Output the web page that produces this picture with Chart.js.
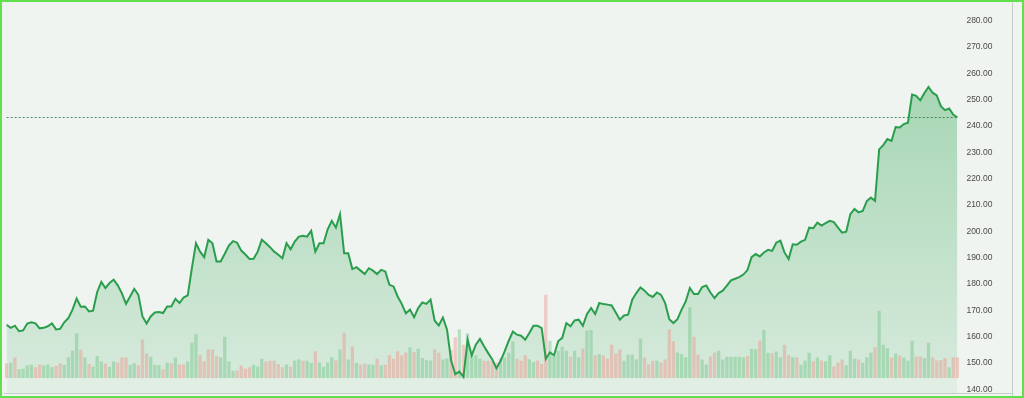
<!DOCTYPE html>
<html><head><meta charset="utf-8">
<script src="https://cdn.jsdelivr.net/npm/chart.js@4"></script>
<style>html,body{margin:0;padding:0;background:#eff4f0;}canvas{display:block;}</style>
</head><body>
<canvas id="c" width="1024" height="398"></canvas>
<script>
// Closing prices, one per trading day
const closes = [
 164.5,163.4,164.2,162.1,162.4,165.0,165.5,165.1,163.2,163.4,
 164.0,165.1,162.8,163.0,165.5,167.1,170.3,174.5,171.4,171.5,
 169.6,169.9,177.0,180.8,178.5,180.4,181.7,179.5,176.5,172.5,
 175.3,178.2,175.9,167.7,165.0,167.7,169.2,169.4,169.0,171.5,
 171.5,174.4,172.8,174.9,175.7,186.0,195.5,192.3,190.2,196.8,
 195.5,188.6,188.6,191.5,194.6,196.3,195.7,192.7,191.2,189.5,
 189.6,192.3,196.8,195.5,194.0,192.3,191.1,189.8,195.5,193.2,
 196.1,198.0,198.3,198.0,200.2,192.3,195.5,195.5,200.8,204.0,
 201.4,206.5,191.7,191.7,185.7,186.4,185.1,183.8,186.0,185.1,
 183.8,185.4,184.8,179.7,179.1,175.3,172.5,168.9,170.3,167.4,
 170.9,173.0,172.5,174.1,166.1,164.3,167.3,162.7,151.0,145.8,
 146.8,144.8,158.9,153.0,157.0,159.2,156.4,153.8,151.4,148.0,
 150.8,154.5,158.5,162.0,160.8,160.4,158.9,161.4,164.2,164.2,
 163.3,151.6,154.1,153.0,158.3,159.6,165.2,164.0,166.2,166.5,
 164.2,168.6,170.9,168.6,172.8,172.4,172.2,171.9,169.2,166.5,
 168.1,168.4,174.1,176.6,178.7,177.5,175.9,175.1,176.8,175.9,
 172.8,166.7,165.2,166.7,170.3,173.4,178.5,176.2,176.2,178.9,
 179.5,176.8,174.7,176.6,177.5,179.4,181.4,182.0,182.6,183.6,
 185.3,190.2,191.4,190.5,192.0,193.0,192.6,195.7,196.5,192.0,
 189.5,195.1,194.9,196.1,196.8,201.4,201.2,203.3,202.2,203.1,
 204.0,203.5,201.4,199.5,199.9,206.5,208.5,207.2,207.7,211.5,
 212.8,211.6,231.1,232.7,235.0,234.3,239.6,239.4,240.7,241.2,
 251.9,251.4,249.7,252.5,254.8,252.6,251.6,247.5,246.0,246.6,
 244.3,243.2
];
// Volume per day (millions)
const volumes = [
 37,38,51,22,23,32,33,27,34,32,
 34,27,30,37,33,52,68,112,71,51,
 35,29,55,41,36,28,41,39,51,51,
 33,37,32,96,62,53,33,32,22,38,
 37,51,34,34,41,88,110,57,42,72,
 71,55,52,103,42,18,19,31,23,27,
 33,29,48,41,43,43,35,27,34,28,
 44,47,43,43,38,67,39,28,39,52,
 44,71,113,46,79,38,34,36,34,33,
 48,32,33,57,48,67,57,64,77,65,
 73,50,45,44,71,63,46,49,70,102,
 122,83,112,62,57,48,43,43,43,39,
 49,51,63,91,48,43,57,47,40,44,
 35,208,93,55,68,78,68,53,68,52,
 74,119,120,57,60,56,48,83,61,71,
 43,58,58,46,99,51,34,43,43,39,
 46,121,92,64,60,52,177,103,58,46,
 34,54,64,68,46,53,53,53,53,52,
 55,73,72,93,120,63,62,66,52,83,
 57,52,52,33,43,63,42,51,44,42,
 57,29,39,46,32,68,48,46,38,52,
 63,77,168,83,75,51,61,56,51,43,
 93,54,54,50,88,51,44,45,50,27,
 52,52
];
// 1 = up day (green volume bar), 0 = down day (red volume bar)
const volUp = [
 0,1,0,1,1,1,1,0,0,1, 1,1,0,0,1,1,1,1,0,1, 0,1,1,1,0,1,1,0,0,0,
 1,1,0,0,0,1,1,1,0,1, 0,1,0,0,1,1,1,0,0,0, 0,0,1,1,1,1,0,0,0,0,
 1,1,1,0,0,0,0,0,1,0, 1,1,0,1,1,0,1,1,1,1, 0,1,0,1,0,1,0,0,1,1,
 0,1,0,0,0,0,0,0,1,0, 1,1,1,1,0,0,1,1,0,0, 1,0,1,1,1,1,0,0,0,0,
 1,1,1,1,0,0,0,1,1,0, 0,0,1,1,1,1,1,0,1,1, 0,1,1,0,1,0,0,0,0,0,
 1,1,1,1,1,0,0,0,1,0, 0,0,0,1,1,1,1,0,0,1, 1,0,0,1,1,1,1,1,1,1,
 0,1,1,0,1,1,0,1,1,0, 0,1,0,1,1,1,0,1,0,1, 1,0,0,0,1,1,1,0,1,1,
 1,0,1,1,1,0,1,0,1,1, 1,0,0,1,1,0,0,0,0,1, 0,0
];
const priceTicks = [140,150,160,170,180,190,200,210,220,230,240,250,260,270,280];
const dayLabels = closes.map((_, i) => 'Day ' + (i + 1));

const BG = '#eff4f0';
const LINE = '#2a9e4d';
const UPC = 'rgba(95,190,120,0.38)';
const DNC = 'rgba(236,150,140,0.45)';

const framePlugin = {
  id: 'frame',
  beforeDraw(chart) {
    const c = chart.ctx;
    c.save();
    c.fillStyle = BG;
    c.fillRect(0, 0, chart.width, chart.height);
    c.restore();
  },
  beforeDatasetsDraw(chart) {
    const c = chart.ctx, y = chart.scales.y, x = chart.scales.x;
    const last = closes[closes.length - 1];
    const py = Math.round(y.getPixelForValue(last)) + 0.5;
    c.save();
    c.strokeStyle = 'rgba(40,125,70,0.85)';
    c.lineWidth = 1;
    c.setLineDash([2, 2]);
    c.beginPath();
    c.moveTo(x.getPixelForValue(0), py);
    c.lineTo(x.getPixelForValue(closes.length - 1), py);
    c.stroke();
    c.restore();
  },
  afterDraw(chart) {
    const c = chart.ctx, a = chart.chartArea;
    c.save();
    c.strokeStyle = 'rgba(180,190,184,0.7)';
    c.lineWidth = 1;
    c.beginPath();
    c.moveTo(4, a.bottom + 0.5); c.lineTo(1012, a.bottom + 0.5);
    c.moveTo(1012.5, 2); c.lineTo(1012.5, 396);
    c.stroke();
    c.strokeStyle = '#62df4c';
    c.lineWidth = 2;
    c.strokeRect(1, 1, chart.width - 2, chart.height - 2);
    c.restore();
  }
};

new Chart(document.getElementById('c'), {
  data: {
    labels: dayLabels,
    datasets: [
      {
        type: 'line', data: closes, yAxisID: 'y', order: 1,
        borderColor: LINE, borderWidth: 2, pointRadius: 0, tension: 0,
        fill: 'start',
        backgroundColor: (ctx) => {
          const ch = ctx.chart, a = ch.chartArea;
          if (!a) return 'rgba(0,0,0,0)';
          const g = ch.ctx.createLinearGradient(0, a.top, 0, a.bottom);
          const z = ch.scales.y2.getPixelForValue(0);
          const f = Math.max(0, Math.min(1, (z - a.top) / (a.bottom - a.top)));
          g.addColorStop(0, 'rgba(46,164,80,0.44)');
          g.addColorStop(f, 'rgba(46,164,80,0.13)');
          g.addColorStop(Math.min(1, f + 0.002), 'rgba(46,164,80,0.075)');
          g.addColorStop(1, 'rgba(46,164,80,0.075)');
          return g;
        }
      },
      {
        type: 'bar', data: volumes, yAxisID: 'y2', order: 2,
        backgroundColor: volUp.map(u => u ? UPC : DNC),
        barPercentage: 0.8, categoryPercentage: 1.0
      }
    ]
  },
  options: {
    responsive: false, animation: false,
    layout: { padding: { left: 4.6, right: 0, top: 4, bottom: 5 } },
    plugins: {
      legend: { display: false }, tooltip: { enabled: false },
      filler: { drawTime: 'beforeDatasetsDraw' }
    },
    scales: {
      x: { display: false, offset: true },
      y: {
        position: 'right', min: 138.67, max: 286.26,
        grid: { display: false, drawTicks: false }, border: { display: false },
        afterBuildTicks: (s) => { s.ticks = priceTicks.map(v => ({ value: v })); },
        afterFit: (s) => { s.width = 64.6; s.paddingTop = 0; s.paddingBottom = 0; },
        ticks: {
          padding: 7, color: '#4a4a4a',
          font: { family: 'Liberation Sans', size: 8.5 },
          callback: (v) => Number(v).toFixed(2)
        }
      },
      y2: { display: false, min: -37.5, max: 935 }
    }
  },
  plugins: [framePlugin]
});
</script>
</body></html>
